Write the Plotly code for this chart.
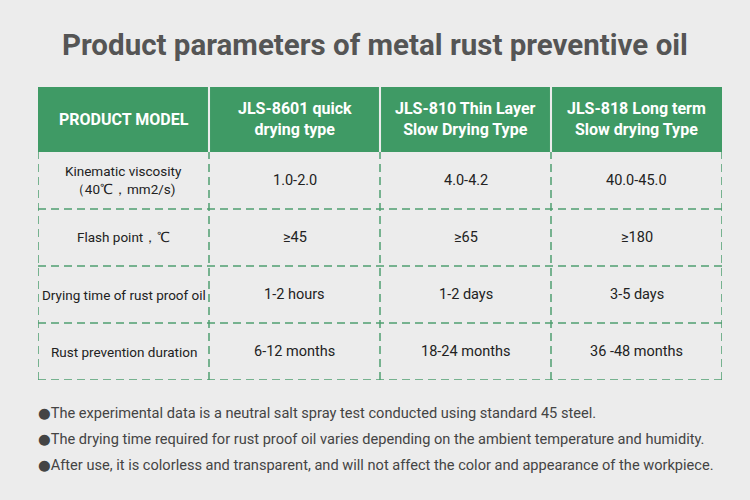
import plotly.graph_objects as go

# Table content
columns = ["PRODUCT MODEL", "JLS-8601 quick<br>drying type",
           "JLS-810 Thin Layer<br>Slow Drying Type", "JLS-818 Long term<br>Slow drying Type"]
params = ["Kinematic viscosity<br>（40℃，mm2/s)", "Flash point，℃",
          "Drying time of rust proof oil", "Rust prevention duration"]
jls8601 = ["1.0-2.0", "≥45", "1-2 hours", "6-12 months"]
jls810 = ["4.0-4.2", "≥65", "1-2 days", "18-24 months"]
jls818 = ["40.0-45.0", "≥180", "3-5 days", "36 -48 months"]
notes = [
    "The experimental data is a neutral salt spray test conducted using standard 45 steel.",
    "The drying time required for rust proof oil varies depending on the ambient temperature and humidity.",
    "After use, it is colorless and transparent, and will not affect the color and appearance of the workpiece.",
]

GREEN = "#3f9a65"
DASH = "#4f9f70"
BG = "#ececec"
FONT = "Roboto"

n_cols = len(columns)
n_rows = len(params)
header_h = 65 / 57  # header height in row units
body = [params, jls8601, jls810, jls818]

fig = go.Figure()

# dashed grid lines
for i in range(n_cols + 1):
    fig.add_trace(go.Scatter(x=[i, i], y=[0, n_rows], mode="lines",
                             line=dict(color=DASH, width=1.5, dash="8px,5px"),
                             hoverinfo="skip", showlegend=False))
for j in range(n_rows):
    fig.add_trace(go.Scatter(x=[0, n_cols], y=[j, j], mode="lines",
                             line=dict(color=DASH, width=1.5, dash="8px,5px"),
                             hoverinfo="skip", showlegend=False))

# header cells
gap = 0.006
for i, col in enumerate(columns):
    fig.add_shape(type="rect", xref="x", yref="y",
                  x0=i + (gap if i > 0 else 0), x1=i + 1 - (gap if i < n_cols - 1 else 0),
                  y0=n_rows, y1=n_rows + header_h,
                  fillcolor=GREEN, line=dict(width=0), layer="below")
    fig.add_annotation(x=i + 0.5, y=n_rows + header_h / 2, xref="x", yref="y",
                       text="<b>%s</b>" % col, showarrow=False,
                       font=dict(family=FONT, size=16, color="white"))

# body cells
for i, colvals in enumerate(body):
    for j, val in enumerate(colvals):
        fig.add_annotation(x=i + 0.5, y=n_rows - j - 0.5, xref="x", yref="y",
                           text=val, showarrow=False,
                           font=dict(family=FONT, size=13.5 if i == 0 else 14.5, color="#222"))

# title
fig.add_annotation(x=0.5, y=1 - 45 / 500, xref="paper", yref="paper", yanchor="middle",
                   text="<b>Product parameters of metal rust preventive oil</b>",
                   showarrow=False, font=dict(family=FONT, size=29.5, color="#555"))

# notes
for k, note in enumerate(notes):
    fig.add_annotation(x=36 / 750, y=1 - (413 + 26 * k) / 500, xref="paper", yref="paper",
                       yanchor="middle", xanchor="left",
                       text="<span style='font-family:DejaVu Sans'>●</span>" + note,
                       showarrow=False,
                       font=dict(family=FONT, size=14.6, color="#444"))

fig.update_layout(
    width=750, height=500,
    margin=dict(l=0, r=0, t=0, b=0),
    paper_bgcolor=BG, plot_bgcolor=BG,
    xaxis=dict(domain=[38 / 750, 722 / 750], range=[0, n_cols], visible=False, fixedrange=True),
    yaxis=dict(domain=[1 - 380 / 500, 1 - 87 / 500], range=[0, n_rows + header_h],
               visible=False, fixedrange=True),
    showlegend=False,
)

fig.write_html("out.html", config={"displayModeBar": False},
               post_script="document.body.style.margin='0';")
